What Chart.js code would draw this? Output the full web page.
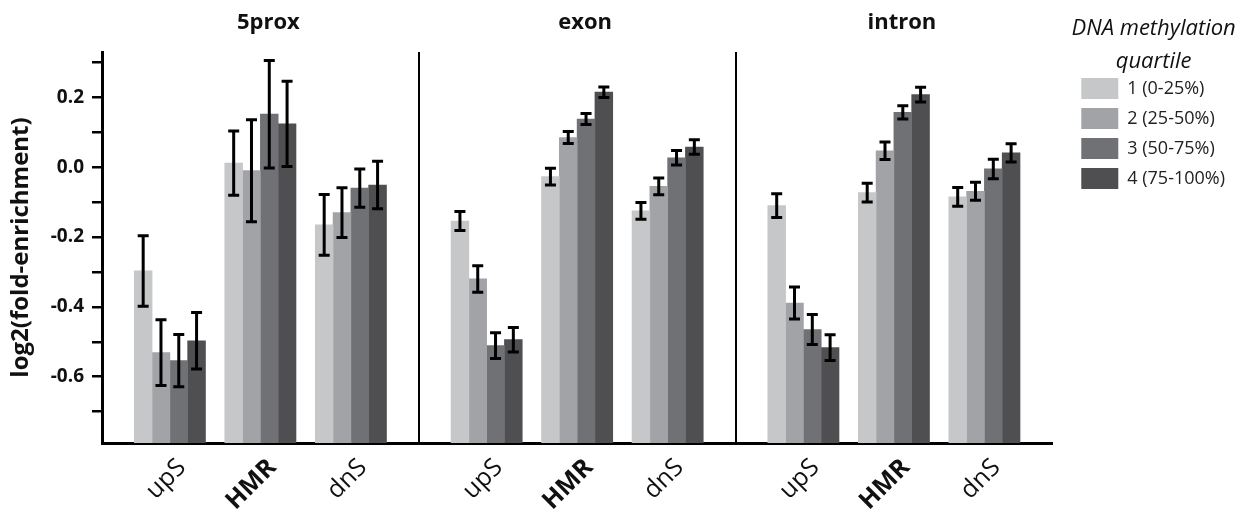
<!DOCTYPE html>
<html>
<head>
<meta charset="utf-8">
<script src="https://cdn.jsdelivr.net/npm/chart.js"></script>
<style>
  html, body { margin: 0; padding: 0; background: #fff; }
  canvas { display: block; }
</style>
</head>
<body>
<canvas id="chart" width="1244" height="512"></canvas>
<script>
// panels and categories
var panels = ['5prox', 'exon', 'intron'];
var regions = ['upS', 'HMR', 'dnS'];
var seriesNames = ['1 (0-25%)', '2 (25-50%)', '3 (50-75%)', '4 (75-100%)'];

// means, in panel order (5prox, exon, intron) x (upS, HMR, dnS)
var q1Mean = [-0.297, 0.012, -0.165, -0.154, -0.027, -0.125, -0.110, -0.073, -0.085];
var q2Mean = [-0.531, -0.010, -0.130, -0.320, 0.085, -0.055, -0.389, 0.047, -0.069];
var q3Mean = [-0.554, 0.152, -0.060, -0.511, 0.138, 0.027, -0.465, 0.157, -0.005];
var q4Mean = [-0.497, 0.124, -0.051, -0.494, 0.215, 0.058, -0.517, 0.208, 0.041];

// error bar half widths
var q1Err = [0.101, 0.092, 0.087, 0.027, 0.024, 0.024, 0.034, 0.027, 0.027];
var q2Err = [0.094, 0.146, 0.071, 0.038, 0.017, 0.024, 0.046, 0.025, 0.026];
var q3Err = [0.075, 0.154, 0.055, 0.037, 0.016, 0.021, 0.043, 0.019, 0.028];
var q4Err = [0.081, 0.122, 0.068, 0.035, 0.015, 0.021, 0.037, 0.021, 0.026];

var yMin = -0.79;
var yMax = 0.33;

var colors = ['#c6c7c9', '#a2a3a6', '#707175', '#4f4f52'];
var font = 'Open Sans';

// each panel gets 7 slots: gap, upS, gap, HMR, gap, dnS, gap
var labels = [];
var titleLabels = [];
panels.forEach(function (p) {
  labels.push('', regions[0], '', regions[1], '', regions[2], '');
  titleLabels.push('', '', '', p, '', '', '');
});

function spread(arr) {
  var out = [];
  for (var p = 0; p < panels.length; p++) {
    out.push(null, arr[p * 3], null, arr[p * 3 + 1], null, arr[p * 3 + 2], null);
  }
  return out;
}

var means = [q1Mean, q2Mean, q3Mean, q4Mean];
var errs = [q1Err, q2Err, q3Err, q4Err];

var datasets = means.map(function (m, i) {
  return {
    label: seriesNames[i],
    data: spread(m),
    errors: spread(errs[i]),
    backgroundColor: colors[i],
    borderWidth: 0,
    base: yMin,
    barThickness: 17.8,
    xAxisID: 'x',
    yAxisID: 'y'
  };
});

// error bars, drawn from the y scale
var errorBars = {
  id: 'errorBars',
  afterDatasetsDraw: function (chart) {
    var ctx = chart.ctx;
    var ys = chart.scales.y;
    ctx.save();
    ctx.strokeStyle = '#000';
    ctx.lineWidth = 3;
    chart.data.datasets.forEach(function (ds, d) {
      var meta = chart.getDatasetMeta(d);
      meta.data.forEach(function (bar, i) {
        var v = ds.data[i];
        if (v === null) return;
        var e = ds.errors[i];
        var top = ys.getPixelForValue(v + e);
        var bot = ys.getPixelForValue(v - e);
        ctx.beginPath();
        ctx.moveTo(bar.x, top);
        ctx.lineTo(bar.x, bot);
        ctx.moveTo(bar.x - 5.5, top);
        ctx.lineTo(bar.x + 5.5, top);
        ctx.moveTo(bar.x - 5.5, bot);
        ctx.lineTo(bar.x + 5.5, bot);
        ctx.stroke();
      });
    });
    ctx.restore();
  }
};

new Chart(document.getElementById('chart').getContext('2d'), {
  type: 'bar',
  data: { labels: labels, datasets: datasets },
  plugins: [errorBars],
  options: {
    responsive: false,
    animation: false,
    devicePixelRatio: 1,
    layout: { padding: { top: 5, right: 9, bottom: 0, left: 0 } },
    plugins: {
      tooltip: { enabled: false },
      legend: {
        position: 'right',
        align: 'start',
        title: {
          display: true,
          text: ['DNA methylation', 'quartile'],
          color: '#111',
          font: { family: font, size: 22, style: 'italic', lineHeight: 1.5 },
          padding: { top: 13, bottom: 18 }
        },
        labels: {
          boxWidth: 37,
          boxHeight: 21,
          padding: 9,
          color: '#222',
          font: { family: font, size: 18 }
        }
      }
    },
    scales: {
      x: {
        type: 'category',
        position: 'bottom',
        offset: true,
        afterFit: function (s) { s.height = 69; },
        grid: {
          offset: true,
          drawTicks: false,
          lineWidth: 2,
          color: function (c) {
            return (c.index > 0 && c.index < labels.length && c.index % 7 === 0) ? '#000' : 'rgba(0,0,0,0)';
          }
        },
        border: { display: true, color: '#000', width: 3 },
        ticks: {
          autoSkip: false,
          minRotation: 45,
          maxRotation: 45,
          padding: 10,
          labelOffset: 12,
          color: '#111',
          font: function (c) {
            var bold = c.tick && c.tick.label === 'HMR';
            return { family: font, size: 25, weight: bold ? 'bold' : 'normal' };
          }
        }
      },
      x2: {
        type: 'category',
        position: 'top',
        labels: titleLabels,
        offset: true,
        afterFit: function (s) { s.height = 47; },
        grid: { display: false },
        border: { display: false },
        ticks: {
          autoSkip: false,
          maxRotation: 0,
          padding: 8,
          labelOffset: 8,
          color: '#111',
          font: { family: font, size: 22, weight: 'bold' }
        }
      },
      y: {
        type: 'linear',
        position: 'left',
        min: yMin,
        max: yMax,
        afterFit: function (s) { s.width = 102; },
        title: {
          display: true,
          text: 'log2(fold-enrichment)',
          color: '#111',
          font: { family: font, size: 24, weight: 'bold' },
          padding: { top: 7, bottom: 0 }
        },
        grid: {
          drawOnChartArea: false,
          drawTicks: true,
          tickLength: 10,
          lineWidth: 2.5,
          color: '#000'
        },
        border: { display: true, color: '#000', width: 3 },
        ticks: {
          stepSize: 0.1,
          includeBounds: false,
          autoSkip: false,
          padding: 8,
          color: '#111',
          font: { family: font, size: 19, weight: 'bold' },
          callback: function (v) {
            var k = Math.round(v * 10);
            return k % 2 === 0 ? (k / 10).toFixed(1) : '';
          }
        }
      },
      gap: {
        type: 'linear',
        position: 'right',
        display: true,
        afterFit: function (s) { s.width = 20; },
        grid: { display: false },
        border: { display: false },
        ticks: { display: false }
      }
    }
  }
});
</script>
</body>
</html>
